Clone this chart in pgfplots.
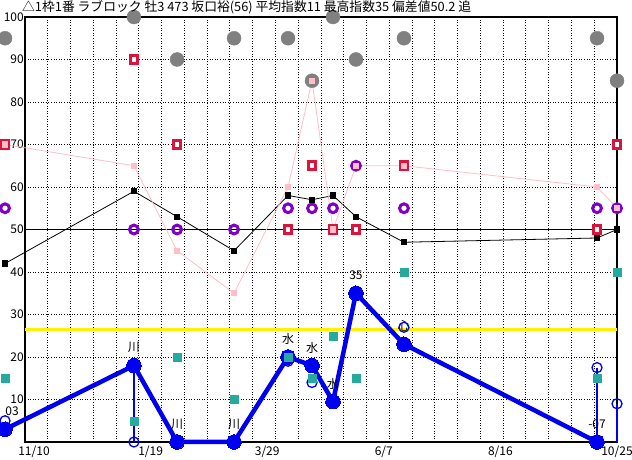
\documentclass[border=0pt]{standalone}
\usepackage{fontspec}
\setmainfont{Noto Sans CJK JP}
\usepackage{pgfplots}
\pgfplotsset{compat=1.18}
\definecolor{crim}{RGB}{220,20,60}
\definecolor{purp}{RGB}{128,0,200}
\definecolor{pinkl}{RGB}{255,190,200}
\definecolor{teal2}{RGB}{38,170,160}
\definecolor{blu}{RGB}{0,0,240}
\definecolor{gry}{RGB}{128,128,128}
\begin{document}
\begin{tikzpicture}
\useasboundingbox (-25pt,-18pt) rectangle (607pt,442pt);
\begin{axis}[
  at={(0pt,0pt)}, anchor=south west,
  scale only axis, width=592pt, height=425pt,
  xmin=-5.403, xmax=350, ymin=0, ymax=100,
  clip=false,
  axis line style={line width=2.5pt},
  xtick={0,70,140,210,280,350},
  xticklabels={11/10,1/19,3/29,6/7,8/16,10/25},
  ytick={10,20,...,100},
  minor xtick={8.264,21.931,...,336.3},
  xminorgrids=true, xmajorgrids=false, ymajorgrids=true,
  grid style={black, line width=0.8pt, dash pattern=on 1pt off 1.6pt},
  minor grid style={black, line width=0.8pt, dash pattern=on 1pt off 1.6pt},
  major tick length=0pt, minor tick length=0pt,
  tick label style={font=\fontsize{12}{12}\selectfont},
  /pgf/number format/assume math mode=true,
  yticklabel style={inner sep=0pt, xshift=-1pt},
  xticklabel style={inner sep=0pt, yshift=-4pt},
  title={△1枠1番 ラブロック 牡3 473 坂口裕(56) 平均指数11 最高指数35 偏差値50.2 追},
  every axis title/.style={anchor=west, at={(0,1)}, xshift=-3pt, yshift=10pt, inner sep=0pt, font=\fontsize{12.8}{12.8}\selectfont},
]
% reference lines
\addplot[yellow, line width=3pt] coordinates {(-5.403,26.5) (350,26.5)};
\addplot[black, line width=0.8pt] coordinates {(-5.403,50) (350,50)};
% gray circles
\addplot[only marks, mark=*, mark size=7pt, gry, mark options={draw=gry, fill=gry}] coordinates {
(-17.4,95) (60,100) (85.9,90) (120.1,95) (152.5,95) (166.9,85) (179.5,100) (193.3,90) (222.1,95) (338,95) (350,85)};
% crimson squares
\addplot[only marks, mark=square*, mark size=3.8pt, mark options={draw=crim, fill=white, line width=3pt}] coordinates {
(-17.4,70) (60,90) (85.9,70) (152.5,50) (166.9,65) (179.5,50) (193.3,50) (222.1,65) (338,50) (350,70)};
% purple rings
\addplot[only marks, mark=o, mark size=4.4pt, purp, mark options={line width=3pt}] coordinates {
(-17.4,55) (60,50) (85.9,50) (120.1,50) (152.5,55) (166.9,55) (179.5,55) (193.3,65) (222.1,55) (338,55) (350,55)};
% black line
\addplot[black, line width=0.8pt, mark=square*, mark size=2.6pt] coordinates {
(-17.4,42) (60,59) (85.9,53) (120.1,45) (152.5,58) (166.9,57) (179.5,58) (193.3,53) (222.1,47) (338,48) (350,50)};
% pink line
\addplot[pinkl, line width=0.8pt, mark=square*, mark size=2.6pt] coordinates {
(-17.4,70) (60,65) (85.9,45) (120.1,35) (152.5,60) (166.9,85) (179.5,50) (193.3,65) (222.1,65) (338,60) (350,55)};
% blue index line
\addplot[blu, line width=4.5pt, mark=*, mark size=7.3pt, mark options={line width=0pt},
  nodes near coords, point meta=explicit symbolic,
  every node near coord/.style={black, inner sep=0pt, anchor=center, yshift=18pt, font=\fontsize{12}{12}\selectfont}]
  coordinates {
(-17.4,3) [] (60,18) [川] (85.9,0) [川] (120.1,0) [川] (152.5,20) [水] (166.9,18) [水] (179.5,9.5) [水] (193.3,35) [35] (222.1,23) [心] (338,0) [-07]};
% label of the first point, kept inside the page
\addplot[only marks, mark=none, draw=none,
  nodes near coords, point meta=explicit symbolic,
  every node near coord/.style={black, inner sep=0pt, anchor=west, yshift=18pt, font=\fontsize{12}{12}\selectfont}]
  coordinates {(-17.3,3) [03]};
% thin vertical connectors
\addplot[blu, line width=1.3pt] coordinates {(60,18) (60,0)};
\addplot[blu, line width=1.3pt] coordinates {(338,17.5) (338,0)};
\addplot[blu, line width=1.3pt] coordinates {(350,9) (350,0)};
% hollow blue rings
\addplot[only marks, mark=o, mark size=5pt, blu, mark options={line width=1.3pt}] coordinates {
(-17.4,5) (60,0) (152.5,19) (166.9,14) (222.1,27) (338,17.5) (350,9)};
% teal squares
\addplot[only marks, mark=square*, mark size=4pt, teal2] coordinates {
(-17.4,15) (60,5) (85.9,20) (120.1,10) (152.5,20) (166.9,15) (179.5,25) (193.3,15) (222.1,40) (338,15) (350,40)};
\end{axis}
\end{tikzpicture}
\end{document}
